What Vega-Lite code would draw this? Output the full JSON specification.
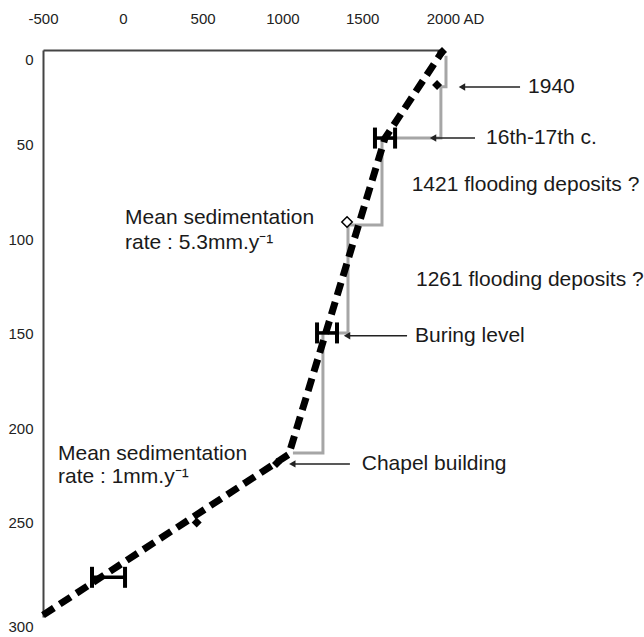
{
  "$schema": "https://vega.github.io/schema/vega-lite/v6.json",
  "autosize": "none",
  "width": 399,
  "height": 567,
  "padding": {"left": 43, "top": 50, "right": 202, "bottom": 20},
  "background": "white",
  "config": {"view": {"stroke": null}, "font": "Liberation Sans"},
  "datasets": {
    "steps": [
      {"step": 1, "year": 2025, "depth": 3},
      {"step": 2, "year": 2025, "depth": 19.5},
      {"step": 3, "year": 1993, "depth": 19.5},
      {"step": 4, "year": 1993, "depth": 46.6},
      {"step": 5, "year": 1624, "depth": 46.6},
      {"step": 6, "year": 1624, "depth": 92.6},
      {"step": 7, "year": 1411, "depth": 92.6},
      {"step": 8, "year": 1411, "depth": 149.7},
      {"step": 9, "year": 1254, "depth": 149.7},
      {"step": 10, "year": 1254, "depth": 213.2},
      {"step": 11, "year": 1066, "depth": 213.2}
    ],
    "model": [
      {"year": 2000, "depth": 1},
      {"year": 1643, "depth": 46.6},
      {"year": 1040, "depth": 214},
      {"year": -500, "depth": 299}
    ],
    "arrows": [
      {"label": "1940", "year": 2125, "year_end": 2489, "depth": 19.6},
      {"label": "16th-17th c.", "year": 1944, "year_end": 2207, "depth": 46.6},
      {"label": "Buring level", "year": 1405, "year_end": 1781, "depth": 151.2},
      {"label": "Chapel building", "year": 1062, "year_end": 1423, "depth": 219}
    ],
    "ranges": [
      {"year": 1580, "year_end": 1706, "depth": 46.6},
      {"year": 1217, "year_end": 1342, "depth": 149.7},
      {"year": -193, "year_end": 14, "depth": 279}
    ],
    "filled": [
      {"year": 2000, "depth": 1},
      {"year": 1969, "depth": 18.5},
      {"year": 966, "depth": 218.5},
      {"year": 463, "depth": 250}
    ],
    "open": [
      {"year": 1405, "depth": 91}
    ],
    "labels": [
      {"text": "1940", "year": 2539, "depth": 19.6},
      {"text": "16th-17th c.", "year": 2276, "depth": 46.3},
      {"text": "1421 flooding deposits ?", "year": 1810, "depth": 71.4},
      {"text": "1261 flooding deposits ?", "year": 1837, "depth": 121.7},
      {"text": "Buring level", "year": 1831, "depth": 151.2},
      {"text": "Chapel building", "year": 1497, "depth": 219},
      {"text": "Mean sedimentation", "year": 14, "depth": 89},
      {"text": "rate : 5.3mm.y⁻¹", "year": 14, "depth": 102},
      {"text": "Mean sedimentation", "year": -406, "depth": 214},
      {"text": "rate : 1mm.y⁻¹", "year": -406, "depth": 226}
    ]
  },
  "layer": [
    {
      "data": {"name": "steps"},
      "mark": {"type": "line", "color": "#a6a6a6", "strokeWidth": 3, "strokeJoin": "miter"},
      "encoding": {
        "x": {
          "field": "year", "type": "quantitative",
          "scale": {"domain": [-500, 2000], "nice": false, "zero": false},
          "axis": {
            "orient": "top", "title": null,
            "values": [-500, 0, 500, 1000, 1500, 2000],
            "labelExpr": "datum.value == 2000 ? '2000 AD' : '' + datum.value",
            "labelFontSize": 15, "labelColor": "#222", "labelPadding": 24,
            "labelFlush": false,
            "labelOffset": {"condition": {"test": "datum.value == 2000", "value": 13}, "value": 0},
            "ticks": false, "grid": false,
            "domain": true, "domainColor": "#444", "domainWidth": 2
          }
        },
        "y": {
          "field": "depth", "type": "quantitative",
          "scale": {"domain": [0, 300], "nice": false, "zero": false, "reverse": true},
          "axis": {
            "orient": "left", "title": null,
            "values": [0, 50, 100, 150, 200, 250, 300],
            "labelFontSize": 15, "labelColor": "#222", "labelPadding": 10,
            "labelFlush": false,
            "labelOffset": {"condition": {"test": "datum.value == 0 || datum.value == 300", "value": 9}, "value": 0},
            "ticks": false, "grid": false,
            "domain": true, "domainColor": "#444", "domainWidth": 2
          }
        },
        "order": {"field": "step", "type": "quantitative"}
      }
    },
    {
      "data": {"name": "model"},
      "mark": {"type": "line", "color": "black", "strokeWidth": 7, "strokeDash": [13, 7], "strokeCap": "butt"},
      "encoding": {
        "x": {"field": "year", "type": "quantitative"},
        "y": {"field": "depth", "type": "quantitative"}
      }
    },
    {
      "data": {"name": "arrows"},
      "mark": {"type": "rule", "color": "#222", "strokeWidth": 1.5},
      "encoding": {
        "x": {"field": "year", "type": "quantitative"},
        "x2": {"field": "year_end"},
        "y": {"field": "depth", "type": "quantitative"}
      }
    },
    {
      "data": {"name": "arrows"},
      "mark": {"type": "point", "shape": "triangle-left", "filled": true, "color": "#222", "size": 55, "opacity": 1},
      "encoding": {
        "x": {"field": "year", "type": "quantitative"},
        "y": {"field": "depth", "type": "quantitative"}
      }
    },
    {
      "data": {"name": "ranges"},
      "mark": {
        "type": "errorbar",
        "ticks": {"size": 21, "thickness": 4, "color": "black", "opacity": 1},
        "rule": {"strokeWidth": 3.5, "color": "black", "opacity": 1}
      },
      "encoding": {
        "x": {"field": "year", "type": "quantitative"},
        "x2": {"field": "year_end"},
        "y": {"field": "depth", "type": "quantitative"}
      }
    },
    {
      "data": {"name": "filled"},
      "mark": {"type": "point", "shape": "diamond", "filled": true, "color": "black", "size": 100, "opacity": 1},
      "encoding": {
        "x": {"field": "year", "type": "quantitative"},
        "y": {"field": "depth", "type": "quantitative"}
      }
    },
    {
      "data": {"name": "open"},
      "mark": {"type": "point", "shape": "diamond", "filled": false, "fill": "white", "stroke": "black", "strokeWidth": 1.5, "size": 110, "opacity": 1},
      "encoding": {
        "x": {"field": "year", "type": "quantitative"},
        "y": {"field": "depth", "type": "quantitative"}
      }
    },
    {
      "data": {"name": "labels"},
      "mark": {"type": "text", "align": "left", "baseline": "middle", "fontSize": 21, "color": "#1a1a1a"},
      "encoding": {
        "x": {"field": "year", "type": "quantitative"},
        "y": {"field": "depth", "type": "quantitative"},
        "text": {"field": "text"}
      }
    }
  ]
}
